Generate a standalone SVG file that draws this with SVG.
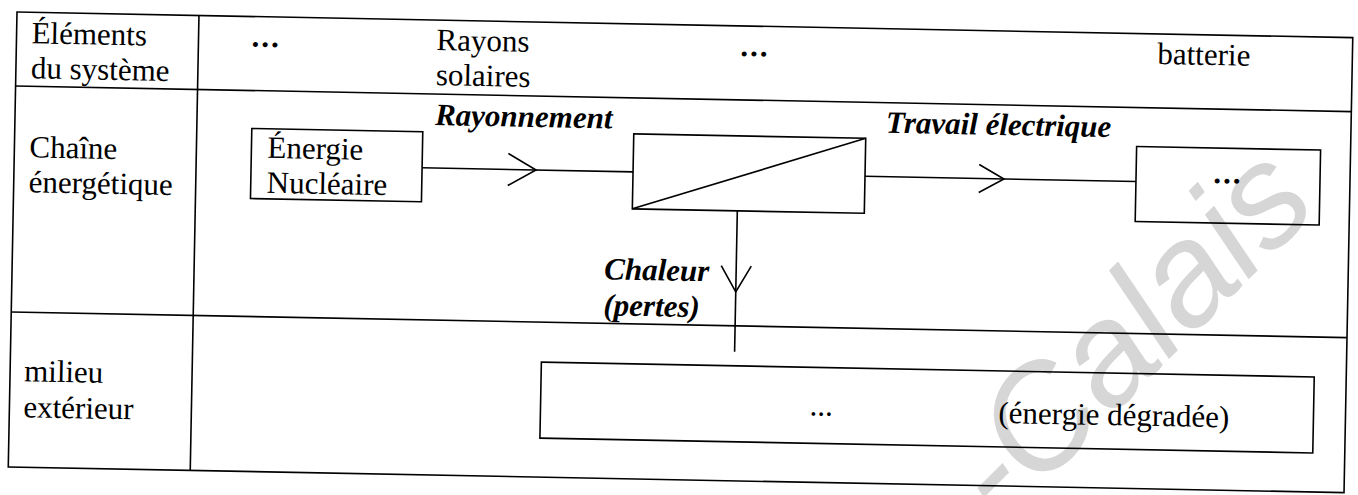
<svg xmlns="http://www.w3.org/2000/svg" width="1358" height="495" viewBox="0 0 1358 495">
  <style>
    .t { font-family: "Liberation Serif", "Times New Roman", serif; font-size: 31px; fill: #000; }
    .bi { font-family: "Liberation Serif", "Times New Roman", serif; font-size: 31px; font-weight: bold; font-style: italic; fill: #000; }
    .dots { font-family: "Liberation Serif", "Times New Roman", serif; font-size: 31px; font-weight: bold; fill: #000; letter-spacing: 2px; }
    .grid { stroke: #000; stroke-width: 1.6; fill: none; }
    .box { stroke: #000; stroke-width: 1.6; fill: none; }
    .wire { stroke: #000; stroke-width: 1.6; fill: none; }
    .wm { font-family: "Liberation Sans", Arial, sans-serif; font-style: italic; font-size: 145px; fill: #d6d6d6; }
  </style>
  <rect width="1358" height="495" fill="#fff"/>
  <g id="watermark">
    <text class="wm" transform="translate(1002,526) rotate(-45)">-Calais</text>
  </g>
  <g transform="rotate(1.1 17 12)">
    <g id="table">
      <rect class="grid" x="17" y="12" width="1336" height="455"/>
      <line class="grid" x1="199" y1="12" x2="199" y2="467"/>
      <line class="grid" x1="17" y1="86" x2="1353" y2="86"/>
      <line class="grid" x1="17" y1="312" x2="1353" y2="312"/>
      <text class="t" x="32" y="43">Éléments</text>
      <text class="t" x="32" y="78">du système</text>
      <text class="t" x="32" y="157">Chaîne</text>
      <text class="t" x="32" y="192">énergétique</text>
      <text class="t" x="31" y="381">milieu</text>
      <text class="t" x="31" y="417">extérieur</text>
      <text class="dots" x="252" y="42">...</text>
      <text class="t" x="437" y="42">Rayons</text>
      <text class="t" x="437" y="77">solaires</text>
      <text class="dots" x="741" y="42">...</text>
      <text class="t" x="1158" y="42">batterie</text>
    </g>
    <g id="connectors">
      <line class="wire" x1="425" y1="160" x2="636" y2="160"/>
      <polyline class="wire" points="511,144 539,160 511,176"/>
      <line class="wire" x1="868" y1="160" x2="1139" y2="160"/>
      <polyline class="wire" points="982,146 1007,160 982,174"/>
      <line class="wire" x1="741" y1="197" x2="741" y2="338"/>
      <polyline class="wire" points="726,252 741,278 756,252"/>
      <text class="bi" x="437" y="117">Rayonnement</text>
      <text class="bi" x="888" y="116">Travail électrique</text>
      <text class="bi" x="609" y="268">Chaleur</text>
      <text class="bi" x="609" y="304">(pertes)</text>
    </g>
    <g id="node-energie-nucleaire">
      <rect class="box" x="254" y="124" width="171" height="70"/>
      <text class="t" x="270" y="153">Énergie</text>
      <text class="t" x="270" y="188">Nucléaire</text>
    </g>
    <g id="node-convertisseur">
      <rect class="box" x="636" y="122" width="232" height="75"/>
      <line class="wire" x1="636" y1="197" x2="868" y2="122"/>
    </g>
    <g id="node-stockage">
      <rect class="box" x="1139" y="125" width="184" height="75"/>
      <text class="dots" x="1231" y="160" text-anchor="middle">...</text>
    </g>
    <g id="node-milieu">
      <rect class="box" x="548" y="352" width="773" height="76"/>
      <text class="t" x="817" y="400">...</text>
      <text class="t" x="1006" y="404">(énergie dégradée)</text>
    </g>
  </g>
</svg>
